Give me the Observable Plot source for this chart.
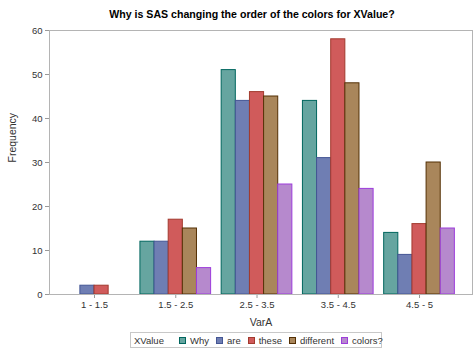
<!DOCTYPE html>
<html><head><meta charset="utf-8">
<script src="https://cdn.jsdelivr.net/npm/d3@7"></script>
<script src="https://cdn.jsdelivr.net/npm/@observablehq/plot@0.6"></script>
<style>
body{margin:0;background:#fff;font-family:"Liberation Sans",Arial,sans-serif;}
#wrap{width:474px;height:355px;position:relative;overflow:hidden;}
#title{height:22px;line-height:28px;text-align:center;font-weight:bold;font-size:10.6px;color:#000;padding-left:30px;box-sizing:border-box;}
#legend{position:absolute;left:130px;top:332px;width:252px;height:16px;border:1px solid #c8c8c8;box-sizing:border-box;display:flex;align-items:center;font-size:9.5px;color:#333;padding-left:3px;white-space:nowrap;}
#legend .sw{flex:0 0 auto;display:inline-block;width:5px;height:5px;margin:0 4px 0 7px;border:1px solid;}
#legend span{flex:0 0 auto;}
</style></head>
<body><div id="wrap"><div id="title">Why is SAS changing the order of the colors for XValue?</div><div id="chart"></div><div id="legend"></div></div>
<script>
const categories = ["1 - 1.5", "1.5 - 2.5", "2.5 - 3.5", "3.5 - 4.5", "4.5 - 5"];
const series = ["Why", "are", "these", "different", "colors?"];
const why       = [0, 12, 51, 44, 14];
const are       = [2, 12, 44, 31, 9];
const these     = [2, 17, 46, 58, 16];
const different = [0, 15, 45, 48, 30];
const colorsQ   = [0, 6, 25, 24, 15];
const fills   = ["#66A5A0", "#6F7EB3", "#D05B5B", "#A9865B", "#B689CD"];
const strokes = ["#01665E", "#445694", "#A23A2E", "#543005", "#9D3CDB"];
const yTicks = [0, 10, 20, 30, 40, 50, 60];

const values = [why, are, these, different, colorsQ];
const w = 0.174;
const rows = [];
categories.forEach((c, ci) => {
  const present = series.map((s, si) => si).filter(si => values[si][ci] > 0);
  const n = present.length;
  present.forEach((si, k) => {
    const center = ci + (k - (n - 1) / 2) * w;
    rows.push({cat: c, series: series[si], si, value: values[si][ci], x1: center - w / 2, x2: center + w / 2});
  });
});

const chart = Plot.plot({
  width: 474, height: 310,
  marginLeft: 49, marginRight: 2, marginTop: 8, marginBottom: 38,
  style: {fontFamily: "'Liberation Sans', Arial, sans-serif", fontSize: "9.5px", color: "#333", background: "#fff"},
  x: {type: "linear", domain: [-0.554, 4.652], ticks: d3.range(categories.length), tickFormat: i => categories[i], label: null, tickSize: 4, tickPadding: 3},
  y: {domain: [0, 60], ticks: yTicks, label: null, tickSize: 4, tickPadding: 3},
  color: {type: "identity"},
  marks: [
    Plot.rect(rows, {x1: "x1", x2: "x2", y1: 0, y2: "value", fill: d => fills[d.si], stroke: d => strokes[d.si], strokeWidth: 1}),
    Plot.frame({stroke: "#b4b4b4"}),
    Plot.text(["Frequency"], {frameAnchor: "left", dx: -37, rotate: -90, fontSize: 10.5, fill: "#333"}),
    Plot.text(["VarA"], {frameAnchor: "bottom", dy: 31, fontSize: 10.5, fill: "#333"})
  ]
});
d3.select(chart).selectAll("[aria-label='x-axis tick'] path, [aria-label='y-axis tick'] path").attr("stroke", "#999");
document.getElementById("chart").appendChild(chart);

const lg = document.getElementById("legend");
const lab = document.createElement("span"); lab.textContent = "XValue"; lab.style.marginRight = "8px"; lg.appendChild(lab);
series.forEach((s, i) => {
  const sw = document.createElement("span"); sw.className = "sw"; sw.style.background = fills[i]; sw.style.borderColor = strokes[i];
  lg.appendChild(sw);
  const t = document.createElement("span"); t.textContent = s; lg.appendChild(t);
});
</script></body></html>
